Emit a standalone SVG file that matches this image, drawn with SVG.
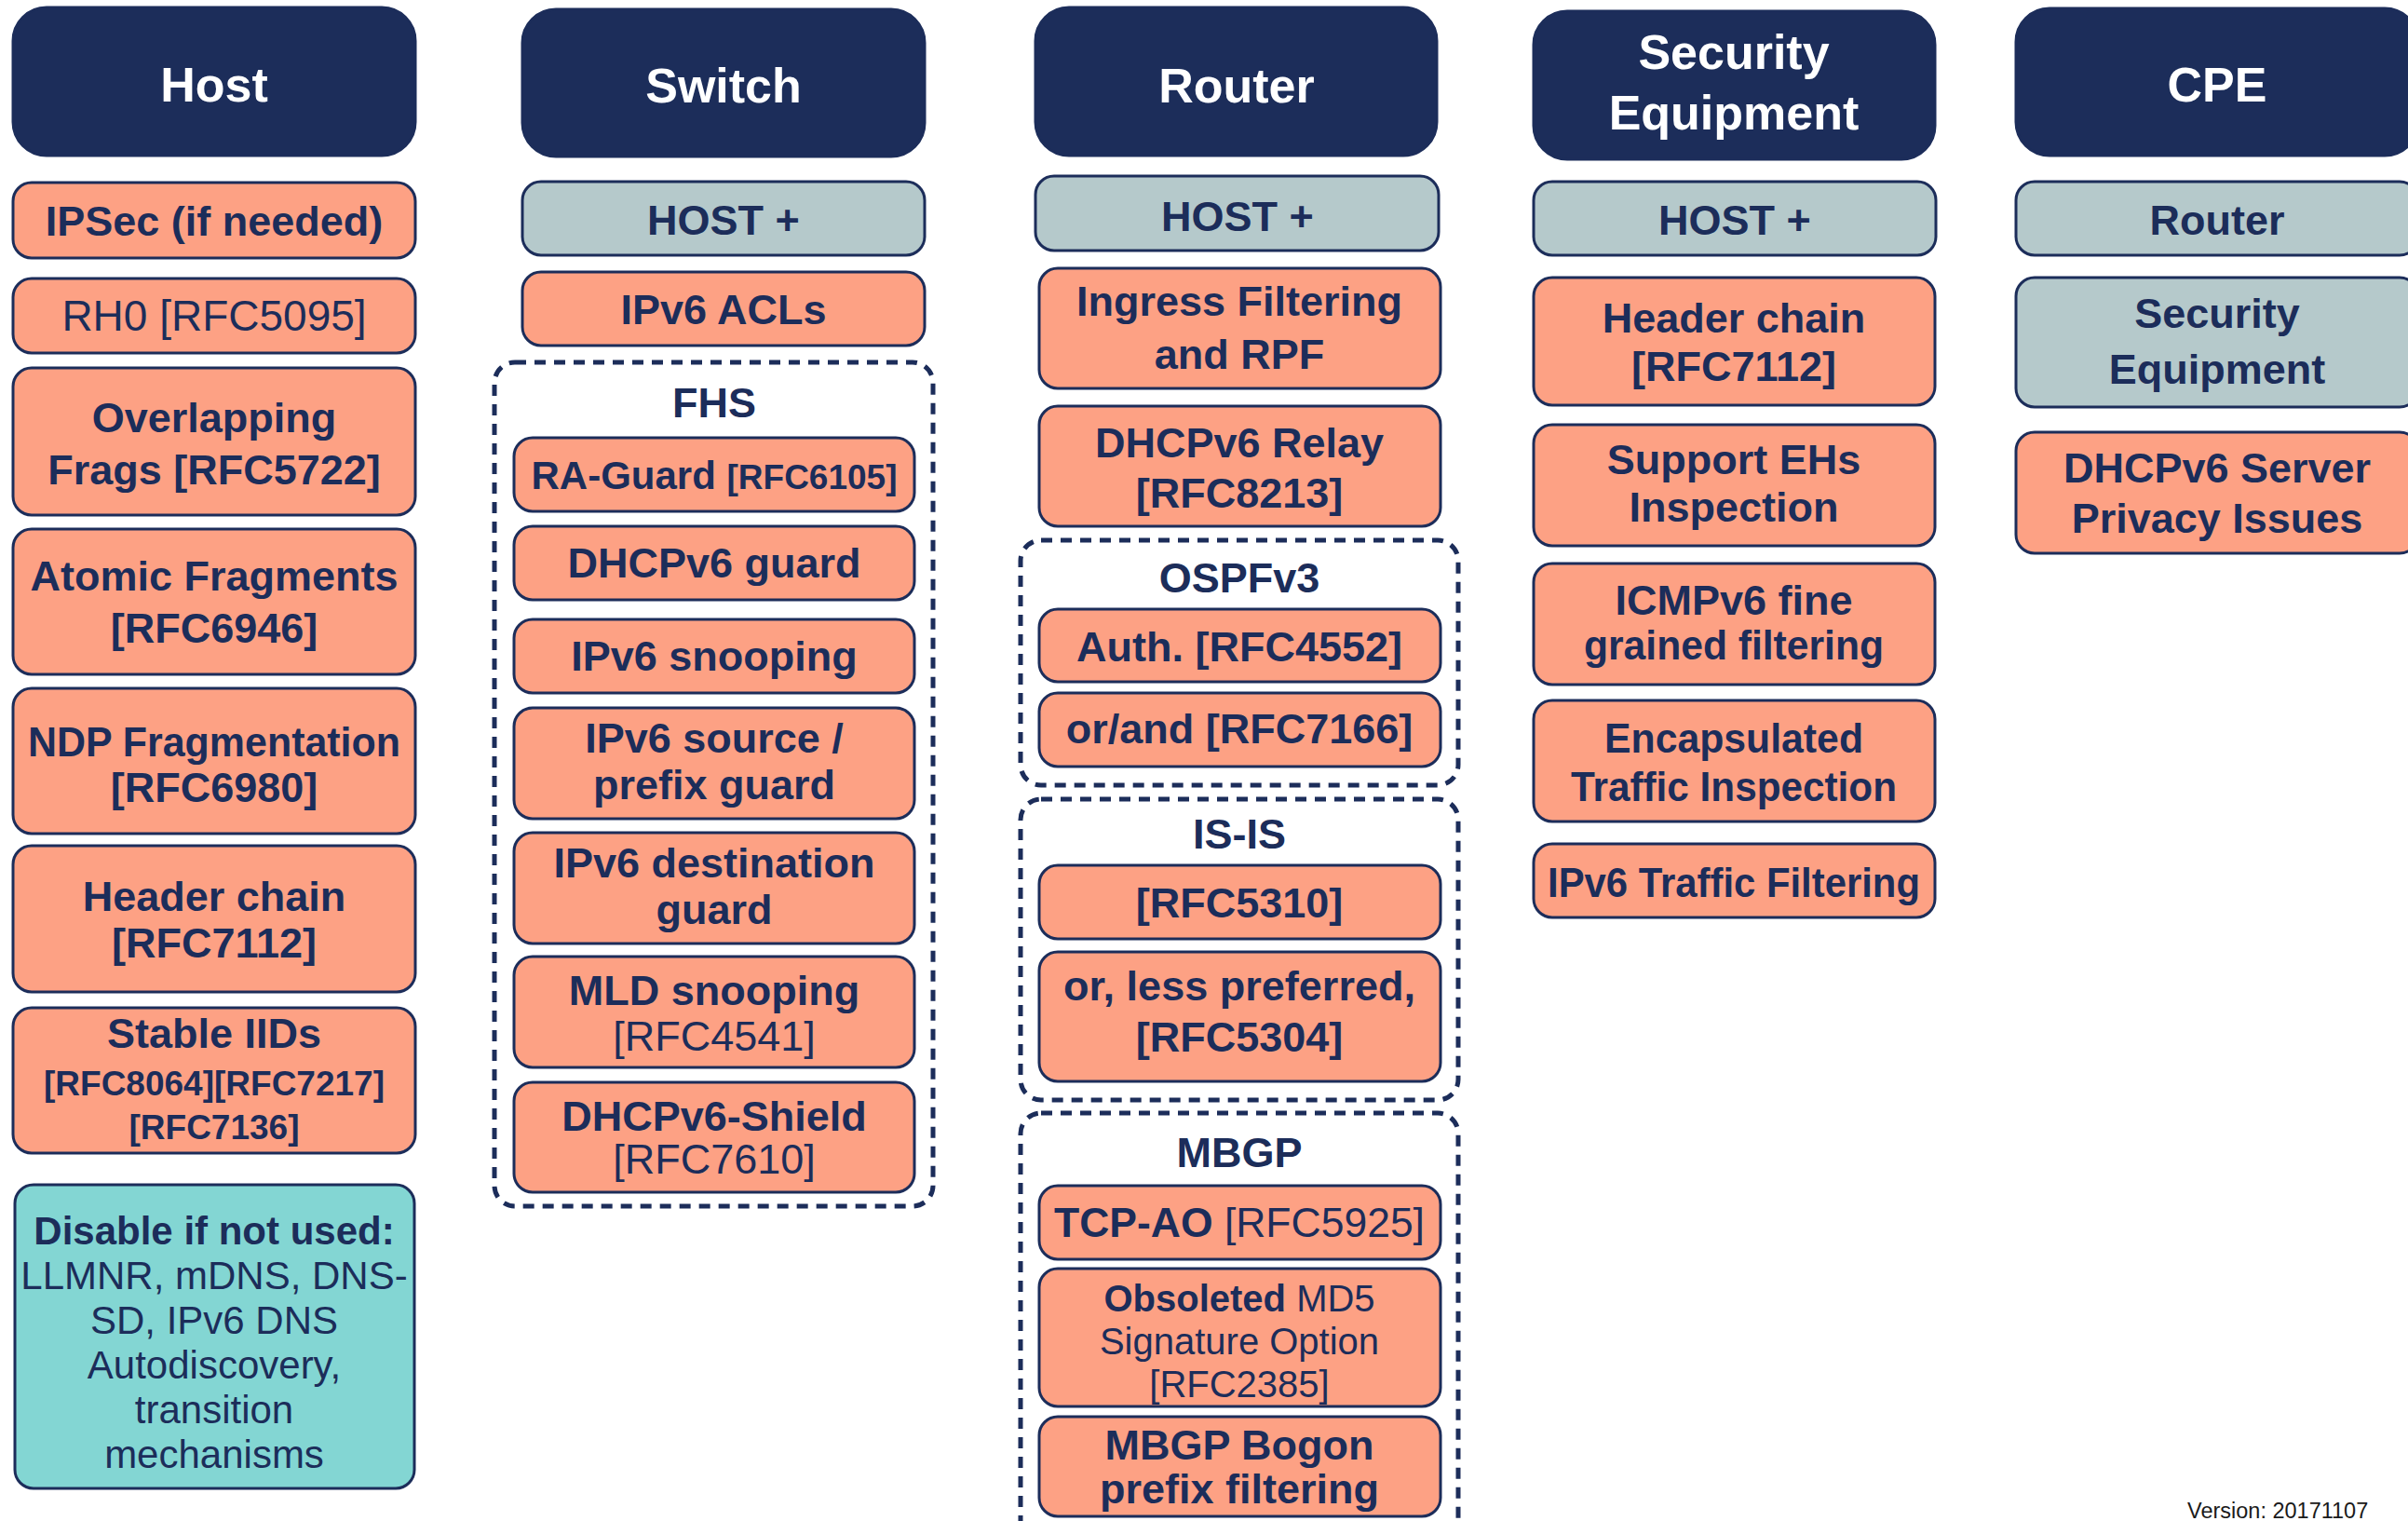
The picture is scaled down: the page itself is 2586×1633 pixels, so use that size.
<svg xmlns="http://www.w3.org/2000/svg" width="2586" height="1633" viewBox="0 0 2586 1633">
<style>
.box{stroke:#1C2D5A;stroke-width:3}
.hdr{fill:#1C2D5A}
.sal{fill:#FDA184}
.gry{fill:#B5C9CB}
.teal{fill:#83D6D3}
.dash{fill:none;stroke:#1C2D5A;stroke-width:5;stroke-dasharray:12 9}
text{font-family:"Liberation Sans",Arial,sans-serif;text-anchor:middle;fill:#1C2D5A;font-size:45px;font-weight:bold}
.ht{fill:#FFFFFF;font-size:52px}
.r{font-weight:normal}
.s37{font-size:37px}
.s42{font-size:42px}
.s40{font-size:40px}
</style>
<rect x="0" y="0" width="2586" height="1633" fill="#FFFFFF"/>

<!-- Host column -->
<g id="host-header"><rect class="box hdr" x="14" y="8" width="432" height="159" rx="36"/><text class="ht" x="230" y="109">Host</text></g>
<g id="host-ipsec"><rect class="box sal" x="14" y="196" width="432" height="81" rx="20"/><text x="230" y="253">IPSec (if needed)</text></g>
<g id="host-rh0"><rect class="box sal" x="14" y="299" width="432" height="80" rx="20"/><text class="r" x="230" y="355" style="font-size:46px">RH0 [RFC5095]</text></g>
<g id="host-overlap"><rect class="box sal" x="14" y="395" width="432" height="158" rx="20"/><text x="230" y="464">Overlapping</text><text x="230" y="520">Frags [RFC5722]</text></g>
<g id="host-atomic"><rect class="box sal" x="14" y="568" width="432" height="156" rx="20"/><text x="230" y="634">Atomic Fragments</text><text x="230" y="690">[RFC6946]</text></g>
<g id="host-ndp"><rect class="box sal" x="14" y="739" width="432" height="156" rx="20"/><text x="230" y="812" textLength="400" lengthAdjust="spacingAndGlyphs">NDP Fragmentation</text><text x="230" y="861">[RFC6980]</text></g>
<g id="host-hdrchain"><rect class="box sal" x="14" y="908" width="432" height="157" rx="20"/><text x="230" y="978">Header chain</text><text x="230" y="1028">[RFC7112]</text></g>
<g id="host-stable"><rect class="box sal" x="14" y="1082" width="432" height="156" rx="20"/><text x="230" y="1125">Stable IIDs</text><text class="s37" x="230" y="1176">[RFC8064][RFC7217]</text><text class="s37" x="230" y="1223">[RFC7136]</text></g>
<g id="host-disable"><rect class="box teal" x="16" y="1272" width="429" height="326" rx="20"/>
<text class="s42" x="230" y="1336">Disable if not used:</text>
<text class="s42 r" x="230" y="1384">LLMNR, mDNS, DNS-</text>
<text class="s42 r" x="230" y="1432">SD, IPv6 DNS</text>
<text class="s42 r" x="230" y="1480">Autodiscovery,</text>
<text class="s42 r" x="230" y="1528">transition</text>
<text class="s42 r" x="230" y="1576">mechanisms</text></g>

<!-- Switch column -->
<g id="switch-header"><rect class="box hdr" x="561" y="10" width="432" height="158" rx="36"/><text class="ht" x="777" y="110">Switch</text></g>
<g id="switch-host"><rect class="box gry" x="561" y="195" width="432" height="79" rx="20"/><text x="777" y="252">HOST +</text></g>
<g id="switch-acl"><rect class="box sal" x="561" y="292" width="432" height="79" rx="20"/><text x="777" y="348">IPv6 ACLs</text></g>
<g id="fhs"><rect class="dash" x="531" y="389" width="471" height="906" rx="22"/><text x="767" y="448">FHS</text></g>
<g id="fhs-raguard"><rect class="box sal" x="552" y="470" width="430" height="79" rx="20"/><text x="767" y="525"><tspan class="s42">RA-Guard </tspan><tspan class="s37">[RFC6105]</tspan></text></g>
<g id="fhs-dhcpguard"><rect class="box sal" x="552" y="565" width="430" height="79" rx="20"/><text x="767" y="620">DHCPv6 guard</text></g>
<g id="fhs-snoop"><rect class="box sal" x="552" y="665" width="430" height="79" rx="20"/><text x="767" y="720">IPv6 snooping</text></g>
<g id="fhs-source"><rect class="box sal" x="552" y="760" width="430" height="119" rx="20"/><text x="767" y="808">IPv6 source /</text><text x="767" y="858">prefix guard</text></g>
<g id="fhs-dest"><rect class="box sal" x="552" y="894" width="430" height="119" rx="20"/><text x="767" y="942">IPv6 destination</text><text x="767" y="992">guard</text></g>
<g id="fhs-mld"><rect class="box sal" x="552" y="1027" width="430" height="119" rx="20"/><text x="767" y="1079">MLD snooping</text><text class="r" x="767" y="1128">[RFC4541]</text></g>
<g id="fhs-shield"><rect class="box sal" x="552" y="1162" width="430" height="118" rx="20"/><text x="767" y="1214">DHCPv6-Shield</text><text class="r" x="767" y="1260">[RFC7610]</text></g>

<!-- Router column -->
<g id="router-header"><rect class="box hdr" x="1112" y="8" width="431" height="159" rx="36"/><text class="ht" x="1328" y="110">Router</text></g>
<g id="router-host"><rect class="box gry" x="1112" y="189" width="433" height="80" rx="20"/><text x="1329" y="248">HOST +</text></g>
<g id="router-ingress"><rect class="box sal" x="1116" y="288" width="431" height="129" rx="20"/><text x="1331" y="339">Ingress Filtering</text><text x="1331" y="396">and RPF</text></g>
<g id="router-relay"><rect class="box sal" x="1116" y="436" width="431" height="129" rx="20"/><text x="1331" y="491">DHCPv6 Relay</text><text x="1331" y="545">[RFC8213]</text></g>
<g id="ospf"><rect class="dash" x="1096" y="580" width="470" height="263" rx="22"/><text x="1331" y="636">OSPFv3</text></g>
<g id="ospf-auth"><rect class="box sal" x="1116" y="654" width="431" height="78" rx="20"/><text x="1331" y="710">Auth. [RFC4552]</text></g>
<g id="ospf-orand"><rect class="box sal" x="1116" y="744" width="431" height="79" rx="20"/><text x="1331" y="798">or/and [RFC7166]</text></g>
<g id="isis"><rect class="dash" x="1096" y="858" width="470" height="323" rx="22"/><text x="1331" y="911">IS-IS</text></g>
<g id="isis-5310"><rect class="box sal" x="1116" y="929" width="431" height="79" rx="20"/><text x="1331" y="985">[RFC5310]</text></g>
<g id="isis-5304"><rect class="box sal" x="1116" y="1022" width="431" height="139" rx="20"/><text x="1331" y="1074" textLength="378" lengthAdjust="spacingAndGlyphs">or, less preferred,</text><text x="1331" y="1129">[RFC5304]</text></g>
<g id="mbgp"><rect class="dash" x="1096" y="1195" width="470" height="460" rx="22"/><text x="1331" y="1253">MBGP</text></g>
<g id="mbgp-tcpao"><rect class="box sal" x="1116" y="1273" width="431" height="79" rx="20"/><text x="1331" y="1328" textLength="398" lengthAdjust="spacingAndGlyphs">TCP-AO <tspan class="r">[RFC5925]</tspan></text></g>
<g id="mbgp-md5"><rect class="box sal" x="1116" y="1362" width="431" height="148" rx="20"/><text class="s40" x="1331" y="1408">Obsoleted <tspan class="r">MD5</tspan></text><text class="s40 r" x="1331" y="1454">Signature Option</text><text class="s40 r" x="1331" y="1500">[RFC2385]</text></g>
<g id="mbgp-bogon"><rect class="box sal" x="1116" y="1521" width="431" height="107" rx="20"/><text x="1331" y="1567">MBGP Bogon</text><text x="1331" y="1614">prefix filtering</text></g>

<!-- Security Equipment column -->
<g id="sec-header"><rect class="box hdr" x="1647" y="12" width="431" height="159" rx="36"/><text class="ht" x="1862" y="74">Security</text><text class="ht" x="1862" y="139">Equipment</text></g>
<g id="sec-host"><rect class="box gry" x="1647" y="195" width="432" height="79" rx="20"/><text x="1863" y="252">HOST +</text></g>
<g id="sec-hdrchain"><rect class="box sal" x="1647" y="298" width="431" height="137" rx="20"/><text x="1862" y="357">Header chain</text><text x="1862" y="409">[RFC7112]</text></g>
<g id="sec-ehs"><rect class="box sal" x="1647" y="456" width="431" height="130" rx="20"/><text x="1862" y="509">Support EHs</text><text x="1862" y="560">Inspection</text></g>
<g id="sec-icmp"><rect class="box sal" x="1647" y="605" width="431" height="130" rx="20"/><text x="1862" y="660">ICMPv6 fine</text><text x="1862" y="708" textLength="322" lengthAdjust="spacingAndGlyphs">grained filtering</text></g>
<g id="sec-encap"><rect class="box sal" x="1647" y="752" width="431" height="130" rx="20"/><text x="1862" y="808" textLength="278" lengthAdjust="spacingAndGlyphs">Encapsulated</text><text x="1862" y="860" textLength="350" lengthAdjust="spacingAndGlyphs">Traffic Inspection</text></g>
<g id="sec-filter"><rect class="box sal" x="1647" y="906" width="431" height="79" rx="20"/><text x="1862" y="963" textLength="400" lengthAdjust="spacingAndGlyphs">IPv6 Traffic Filtering</text></g>

<!-- CPE column -->
<g id="cpe-header"><rect class="box hdr" x="2165" y="9" width="432" height="158" rx="36"/><text class="ht" x="2381" y="109">CPE</text></g>
<g id="cpe-router"><rect class="box gry" x="2165" y="195" width="432" height="79" rx="20"/><text x="2381" y="252">Router</text></g>
<g id="cpe-sec"><rect class="box gry" x="2165" y="298" width="432" height="139" rx="20"/><text x="2381" y="352">Security</text><text x="2381" y="412">Equipment</text></g>
<g id="cpe-dhcp"><rect class="box sal" x="2165" y="464" width="432" height="130" rx="20"/><text x="2381" y="518">DHCPv6 Server</text><text x="2381" y="572">Privacy Issues</text></g>

<g id="version"><text class="r" x="2349" y="1630" style="text-anchor:start;font-size:23.5px;fill:#1A1A1A">Version: 20171107</text></g>
</svg>
